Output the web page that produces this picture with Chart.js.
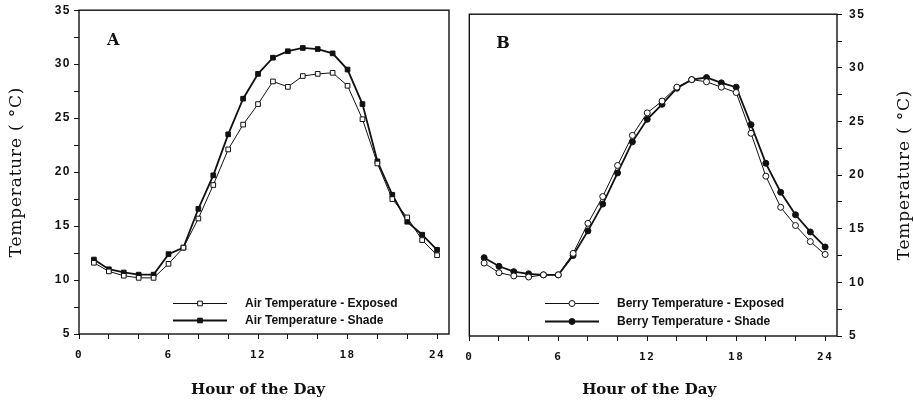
<!DOCTYPE html>
<html>
<head>
<meta charset="utf-8">
<script src="https://cdn.jsdelivr.net/npm/chart.js@4.4.1/dist/chart.umd.min.js"></script>
<style>
  html, body { margin: 0; padding: 0; background: #fff; }
  #wrap { position: relative; width: 913px; height: 401px; overflow: hidden; }
  canvas { position: absolute; top: 0; }
</style>
</head>
<body>
<div id="wrap">
  <canvas id="cA" width="456" height="401" style="left:0px"></canvas>
  <canvas id="cB" width="457" height="401" style="left:456px"></canvas>
</div>
<script>
// ---- Data ----
const hours = [1,2,3,4,5,6,7,8,9,10,11,12,13,14,15,16,17,18,19,20,21,22,23,24];
const airExposed = [11.6,10.8,10.4,10.2,10.2,11.5,13.0,15.7,18.8,22.1,24.4,26.3,28.4,27.9,28.9,29.1,29.2,28.0,24.9,20.8,17.5,15.8,13.7,12.3];
const airShade   = [11.9,11.0,10.7,10.5,10.5,12.4,13.0,16.6,19.7,23.5,26.8,29.1,30.6,31.2,31.5,31.4,31.0,29.5,26.3,21.0,17.9,15.4,14.2,12.8];
const berryExposed = [11.8,10.9,10.6,10.5,10.7,10.7,12.7,15.5,18.0,20.9,23.7,25.8,26.9,28.2,28.9,28.7,28.2,27.7,23.9,19.9,17.0,15.3,13.8,12.6];
const berryShade   = [12.3,11.5,11.0,10.8,10.7,10.7,12.5,14.8,17.3,20.2,23.1,25.2,26.6,28.1,28.9,29.1,28.6,28.2,24.7,21.1,18.4,16.3,14.7,13.3];
const xTicks = [0,2,4,6,8,10,12,14,16,18,20,22,24];
const xTickLabels = [0,6,12,18,24];
const yTicks = [5,7.5,10,12.5,15,17.5,20,22.5,25,27.5,30,32.5,35];
const yTickLabels = [5,10,15,20,25,30,35];
const yTitle = 'Temperature ( °C)';
const xTitle = 'Hour of the Day';

const INK = '#111';

function pts(arr) { return hours.map((h, i) => ({x: h, y: arr[i]})); }

const decor = {
  id: 'decor',
  beforeDraw(chart) { chart.ctx.letterSpacing = '1.5px'; },
  beforeDatasetsDraw(chart) { chart.ctx.letterSpacing = '0px'; },
  afterDraw(chart, args, o) {
    const ctx = chart.ctx, a = chart.chartArea;
    ctx.save();
    ctx.letterSpacing = '0px';
    // frame
    ctx.strokeStyle = INK; ctx.lineWidth = 1.4;
    ctx.strokeRect(a.left, a.top, a.right - a.left, a.bottom - a.top);
    ctx.fillStyle = INK;
    // panel letter
    ctx.font = 'bold 16px "DejaVu Serif"';
    ctx.textAlign = 'left'; ctx.textBaseline = 'middle';
    ctx.fillText(o.letter, a.left + o.letterDx, a.top + o.letterDy);
    // x title
    ctx.font = 'bold 15px "DejaVu Serif"';
    ctx.textAlign = 'center';
    ctx.fillText(xTitle, (a.left + a.right) / 2 + o.xTitleDx, o.xTitleY);
    // y title
    ctx.font = '17px "DejaVu Serif"';
    ctx.letterSpacing = '0.8px';
    ctx.save();
    ctx.translate(o.yTitleX, (a.top + a.bottom) / 2);
    ctx.rotate(-Math.PI / 2);
    ctx.fillText(yTitle, 0, 0);
    ctx.restore();
    ctx.letterSpacing = '0px';
    // legend
    ctx.font = 'bold 12px "Liberation Sans"';
    ctx.textAlign = 'left';
    chart.data.datasets.forEach((ds, i) => {
      const y = o.legY[i];
      ctx.strokeStyle = INK; ctx.lineWidth = ds.borderWidth;
      ctx.beginPath(); ctx.moveTo(o.legX0, y); ctx.lineTo(o.legX1, y); ctx.stroke();
      ctx.fillStyle = ds.pointBackgroundColor; ctx.strokeStyle = INK; ctx.lineWidth = 1;
      Chart.helpers.drawPoint(ctx, {pointStyle: ds.pointStyle, radius: ds.pointRadius, borderWidth: 1, rotation: 0}, (o.legX0 + o.legX1) / 2, y);
      ctx.fillStyle = INK;
      ctx.fillText(ds.label, o.legTextX, y);
    });
    ctx.restore();
  }
};

function makeChart(id, sets, labels, style, yPos, pad, yWidth, xHeight, dec) {
  const datasets = sets.map((s, i) => ({
    label: labels[i],
    data: pts(s),
    borderColor: INK,
    borderWidth: i === 0 ? 1 : 1.8,
    pointStyle: style,
    pointRadius: style === 'rect' ? 3.3 : 3,
    pointBorderWidth: 1,
    pointBorderColor: INK,
    pointBackgroundColor: i === 0 ? '#fff' : INK,
    tension: 0,
    fill: false
  }));
  return new Chart(document.getElementById(id), {
    type: 'line',
    data: { datasets },
    plugins: [decor],
    options: {
      responsive: false,
      animation: false,
      layout: { padding: pad },
      plugins: { legend: { display: false }, tooltip: { enabled: false }, decor: dec },
      scales: {
        x: {
          type: 'linear', position: 'bottom', min: 0, max: 24.8,
          afterBuildTicks: s => { s.ticks = xTicks.map(v => ({value: v})); },
          afterFit: s => { s.height = xHeight; },
          border: { display: false },
          grid: { drawOnChartArea: false, drawTicks: true, tickLength: 5, color: INK, tickColor: INK, tickWidth: 1 },
          ticks: {
            autoSkip: false, maxRotation: 0, padding: 10, color: INK,
            font: { family: '"DejaVu Sans Mono"', weight: 'bold', size: 11 },
            callback: v => xTickLabels.includes(v) ? String(v) : ''
          }
        },
        y: {
          type: 'linear', position: yPos, min: 5, max: 35,
          afterBuildTicks: s => { s.ticks = yTicks.map(v => ({value: v})); },
          afterFit: s => { s.width = yWidth; },
          border: { display: false },
          grid: { drawOnChartArea: false, drawTicks: true, tickLength: 5, color: INK, tickColor: INK, tickWidth: 1 },
          ticks: {
            autoSkip: false, padding: yPos === 'left' ? 3 : 7, color: INK,
            font: { family: '"Liberation Sans"', weight: 'bold', size: 12 },
            callback: v => yTickLabels.includes(v) ? String(v) : ''
          }
        }
      }
    }
  });
}

makeChart('cA', [airExposed, airShade],
  ['Air Temperature - Exposed', 'Air Temperature - Shade'], 'rect', 'left',
  { top: 10, right: 7, left: 0, bottom: 0 }, 79, 67,
  { letter: 'A', letterDx: 28, letterDy: 31, xTitleDx: -6, xTitleY: 390, yTitleX: 17,
    legX0: 173, legX1: 227, legY: [303.5, 320.5], legTextX: 245 });

makeChart('cB', [berryExposed, berryShade],
  ['Berry Temperature - Exposed', 'Berry Temperature - Shade'], 'circle', 'right',
  { top: 12, right: 0, left: 11, bottom: 0 }, 76, 65,
  { letter: 'B', letterDx: 27, letterDy: 30, xTitleDx: -4, xTitleY: 390, yTitleX: 449,
    legX0: 89, legX1: 143, legY: [303.5, 321.5], legTextX: 161 });
</script>
</body>
</html>
